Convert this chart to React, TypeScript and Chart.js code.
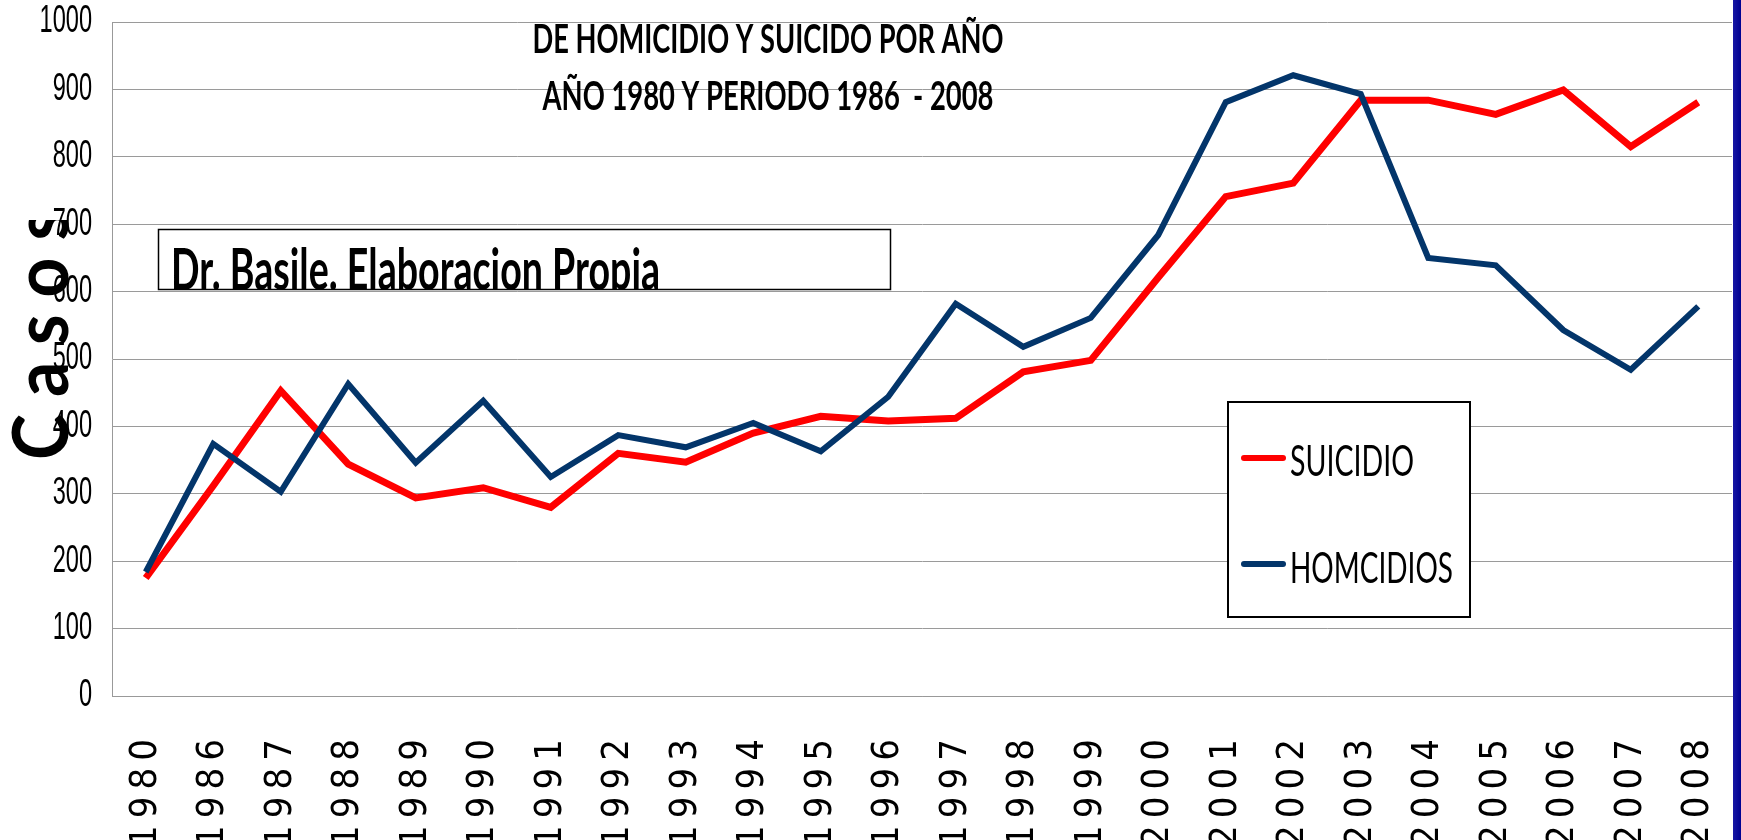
import React, { useEffect, useRef } from 'react';
import { Chart, registerables } from 'chart.js';

Chart.register(...registerables);

// ---- data ----
const years = ['1980', '1986', '1987', '1988', '1989', '1990', '1991', '1992', '1993', '1994', '1995', '1996',
  '1997', '1998', '1999', '2000', '2001', '2002', '2003', '2004', '2005', '2006', '2007', '2008'];
const suicidio = [175, 312, 453, 344, 294, 309, 280, 360, 347, 390, 415, 408,
  412, 481, 498, 621, 741, 761, 884, 884, 863, 899, 815, 881];
const homicidios = [184, 374, 303, 463, 346, 438, 325, 387, 369, 405, 363, 444,
  582, 518, 561, 684, 881, 921, 893, 650, 639, 543, 484, 578];
const yTickValues = [0, 100, 200, 300, 400, 500, 600, 700, 800, 900, 1000];
const seriesNames = ['SUICIDIO', 'HOMCIDIOS'];
const seriesColors = ['#FF0000', '#03356A'];
const titleLines = ['DE HOMICIDIO Y SUICIDO POR AÑO', 'AÑO 1980 Y PERIODO 1986  - 2008'];
const yTitle = 'C a s o s';
const noteText = 'Dr. Basile. Elaboracion Propia';

function fitText(ctx: CanvasRenderingContext2D, text: string, x: number, y: number, w: number, font: string, align: CanvasTextAlign) {
  ctx.save();
  ctx.font = font;
  const m = ctx.measureText(text).width;
  const s = w / m;
  ctx.translate(x, y);
  ctx.scale(s, 1);
  ctx.textAlign = align;
  ctx.textBaseline = 'alphabetic';
  ctx.fillStyle = '#000';
  ctx.fillText(text, 0, 0);
  ctx.restore();
}

const decorPlugin = {
  id: 'decor',
  beforeDraw(chart: any) {
    const ctx = chart.ctx as CanvasRenderingContext2D;
    ctx.save();
    ctx.fillStyle = '#ffffff';
    ctx.fillRect(0, 0, chart.width, chart.height);
    const grd = ctx.createLinearGradient(chart.chartArea.right, 0, chart.width, 0);
    grd.addColorStop(0, '#1a1aa8');
    grd.addColorStop(1, '#000090');
    ctx.fillStyle = grd;
    ctx.fillRect(chart.chartArea.right + 1, 0, chart.width - chart.chartArea.right, chart.height);
    ctx.restore();
    (ctx as any).letterSpacing = '0px';

    // narrow y tick labels (condensed like the original)
    const ys = chart.scales.y;
    if (ys && !ys.__narrow) {
      const orig = ys.drawLabels.bind(ys);
      ys.drawLabels = (area: any) => {
        const c = ys.ctx as CanvasRenderingContext2D;
        const ax = ys.right - ys.options.ticks.padding;
        c.save();
        c.translate(ax, 0);
        c.scale(0.62, 1);
        c.translate(-ax, 0);
        orig(area);
        c.restore();
      };
      ys.__narrow = true;
    }
  },
  afterDatasetsDraw(chart: any) {
    const ctx = chart.ctx as CanvasRenderingContext2D;
    // title
    fitText(ctx, titleLines[0], 768, 53, 471, 'bold 41px Lato, "Open Sans", sans-serif', 'center');
    fitText(ctx, titleLines[1], 768, 110, 451, 'bold 41px Lato, "Open Sans", sans-serif', 'center');

    // note box
    ctx.save();
    ctx.fillStyle = '#fff';
    ctx.fillRect(158, 229, 732, 60);
    ctx.beginPath();
    ctx.rect(158, 229, 732, 60);
    ctx.clip();
    fitText(ctx, noteText, 171, 290, 489, 'bold 58px Lato, "Open Sans", sans-serif', 'left');
    ctx.restore();
    ctx.save();
    ctx.strokeStyle = '#000';
    ctx.lineWidth = 1.5;
    ctx.strokeRect(158.5, 229.5, 732, 60);
    ctx.restore();

    // legend
    ctx.save();
    ctx.fillStyle = '#fff';
    ctx.fillRect(1228, 402, 242, 215);
    ctx.strokeStyle = '#000';
    ctx.lineWidth = 2;
    ctx.strokeRect(1228, 402, 242, 215);
    ctx.restore();
    const ds = chart.data.datasets;
    const rows = [{ ly: 458, by: 476, w: 124 }, { ly: 564, by: 583, w: 163 }];
    ds.forEach((d: any, i: number) => {
      const r = rows[i];
      ctx.save();
      ctx.strokeStyle = d.borderColor;
      ctx.lineWidth = 6;
      ctx.lineCap = 'round';
      ctx.beginPath();
      ctx.moveTo(1244, r.ly);
      ctx.lineTo(1283, r.ly);
      ctx.stroke();
      ctx.restore();
      fitText(ctx, d.label, 1290, r.by, r.w, '43px Lato, "Open Sans", sans-serif', 'left');
    });

    // y title
    ctx.save();
    ctx.beginPath();
    ctx.rect(0, 220, 112, 400);
    ctx.clip();
    ctx.translate(68, 460);
    ctx.rotate(-Math.PI / 2);
    ctx.font = 'bold 76px Lato, "Open Sans", sans-serif';
    const m = ctx.measureText(yTitle).width;
    ctx.scale(250 / m, 1);
    ctx.fillStyle = '#000';
    ctx.textAlign = 'left';
    ctx.textBaseline = 'alphabetic';
    ctx.fillText(yTitle, 0, 0);
    ctx.restore();

    (ctx as any).letterSpacing = '7px';
  },
  afterDraw(chart: any) {
    (chart.ctx as any).letterSpacing = '0px';
  },
};

export default function App() {
  const ref = useRef<HTMLCanvasElement | null>(null);
  useEffect(() => {
    document.body.style.margin = '0';
    if (!ref.current) return;
    const chart = new Chart(ref.current, {
      type: 'line',
      data: {
        labels: years,
        datasets: [
          {
            label: seriesNames[0],
            data: suicidio,
            borderColor: seriesColors[0],
            backgroundColor: seriesColors[0],
            borderWidth: 7,
            pointRadius: 0,
            tension: 0,
            order: 1,
          },
          {
            label: seriesNames[1],
            data: homicidios,
            borderColor: seriesColors[1],
            backgroundColor: seriesColors[1],
            borderWidth: 6,
            pointRadius: 0,
            tension: 0,
            order: 0,
          },
        ],
      },
      options: {
        animation: false,
        responsive: true,
        maintainAspectRatio: false,
        layout: { padding: { top: 22, right: 9, left: 0, bottom: 0 } },
        plugins: {
          legend: { display: false },
          title: { display: false },
          tooltip: { enabled: false },
        },
        scales: {
          x: {
            offset: true,
            grid: { display: false, drawTicks: false },
            border: { display: true, color: '#999999', width: 1 },
            ticks: {
              z: 1,
              autoSkip: false,
              minRotation: 90,
              maxRotation: 90,
              padding: 36,
              color: '#000',
              font: { family: '"DejaVu Sans Condensed", "DejaVu Sans", sans-serif', size: 38 },
            },
            afterFit: (s: any) => {
              s.height = 144;
              s.paddingLeft = 0;
              s.paddingRight = 0;
            },
          },
          y: {
            min: 0,
            max: 1000,
            grid: { color: '#9a9a9a', lineWidth: 1, drawTicks: false },
            border: { display: true, color: '#999999', width: 1 },
            afterBuildTicks: (s: any) => { s.ticks = yTickValues.map((v) => ({ value: v })); },
            ticks: {
              padding: 20,
              color: '#000',
              font: { family: '"Liberation Sans", Arial, sans-serif', size: 38 },
              callback: (v: any) => String(v),
            },
            afterFit: (s: any) => {
              s.width = 112;
              s.paddingTop = 0;
              s.paddingBottom = 0;
            },
          },
        },
      },
      plugins: [decorPlugin],
    } as any);
    return () => chart.destroy();
  }, []);
  return (
    <div style={{ position: 'fixed', left: 0, top: 0, width: 1741, height: 840, background: '#fff' }}>
      <canvas ref={ref} />
    </div>
  );
}
